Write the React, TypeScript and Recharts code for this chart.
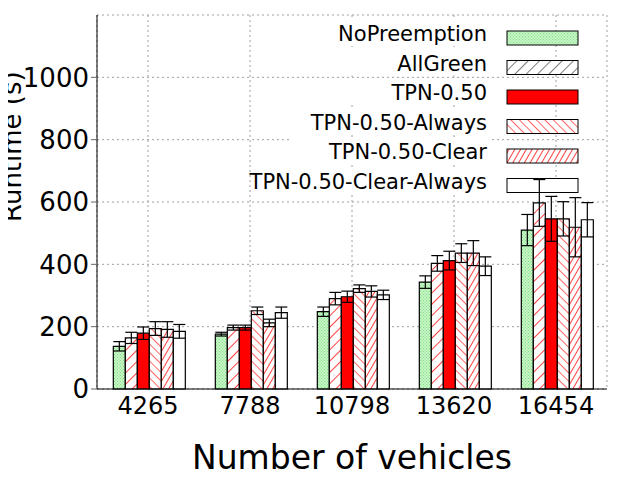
import React from "react";
import { BarChart, Bar, XAxis, YAxis, CartesianGrid, ErrorBar } from "recharts";

const categories = ["4265", "7788", "10798", "13620", "16454"];
const seriesNames = ["NoPreemption", "AllGreen", "TPN-0.50", "TPN-0.50-Always", "TPN-0.50-Clear", "TPN-0.50-Clear-Always"];
const values = [
  [137, 176, 248, 343, 510],
  [164, 197, 290, 403, 597],
  [179, 197, 296, 412, 546],
  [194, 251, 322, 436, 546],
  [191, 212, 313, 436, 519],
  [185, 245, 302, 394, 543],
];
const errors = [
  [15, 6, 15, 20, 50],
  [18, 8, 20, 25, 75],
  [20, 8, 18, 30, 72],
  [22, 12, 12, 30, 55],
  [25, 12, 18, 40, 95],
  [22, 18, 15, 30, 55],
];
const yTicks = [0, 200, 400, 600, 800, 1000];
const fills = ["url(#pGreen)", "url(#pFwd)", "#ff0000", "url(#pBack)", "url(#pFwdDense)", "#ffffff"];
const legendFills = ["url(#pGreen)", "url(#pFwdBlack)", "#ff0000", "url(#pBack)", "url(#pFwdDense)", "#ffffff"];

const data = categories.map((c, i) => {
  const row: any = { name: c };
  seriesNames.forEach((s, j) => {
    row["v" + j] = values[j][i];
    row["e" + j] = errors[j][i];
  });
  return row;
});

const font = "DejaVu Sans, sans-serif";

export default function App() {
  return (
    <div style={{ position: "relative", width: 640, height: 480, margin: -8, background: "#fff" }}>
      <BarChart width={640} height={480} data={data} margin={{ top: 15, right: 33, bottom: 61, left: 20 }} barCategoryGap="16%" barGap={0}>
        <defs>
          <pattern id="pGreen" patternUnits="userSpaceOnUse" width={3} height={3}>
            <rect width={3} height={3} fill="#c8f5c8" />
            <rect width={1} height={1} fill="#7ee07e" />
            <rect x={1.5} y={1.5} width={1} height={1} fill="#7ee07e" />
          </pattern>
          <pattern id="pFwd" patternUnits="userSpaceOnUse" width={8} height={8} patternTransform="rotate(45)">
            <rect width={8} height={8} fill="#fff" />
            <line x1={0} y1={0} x2={0} y2={8} stroke="#ff0000" strokeWidth={1.5} />
          </pattern>
          <pattern id="pFwdBlack" patternUnits="userSpaceOnUse" width={8} height={8} patternTransform="rotate(45)">
            <rect width={8} height={8} fill="#fff" />
            <line x1={0} y1={0} x2={0} y2={8} stroke="#000" strokeWidth={1} />
          </pattern>
          <pattern id="pBack" patternUnits="userSpaceOnUse" width={6} height={6} patternTransform="rotate(-45)">
            <rect width={6} height={6} fill="#fff" />
            <line x1={0} y1={0} x2={0} y2={6} stroke="#ff0000" strokeWidth={1.2} />
          </pattern>
          <pattern id="pFwdDense" patternUnits="userSpaceOnUse" width={5} height={5} patternTransform="rotate(30)">
            <rect width={5} height={5} fill="#fff" />
            <line x1={0} y1={0} x2={0} y2={5} stroke="#ff0000" strokeWidth={1.5} />
          </pattern>
        </defs>
        <CartesianGrid stroke="#a0a0a0" strokeDasharray="2 3" />
        <XAxis dataKey="name" tick={{ fontSize: 24, fill: "#000", fontFamily: font }} tickLine={false} axisLine={{ stroke: "#000" }}
          label={{ value: "Number of vehicles", position: "insideBottom", offset: -50, fontSize: 33, fill: "#000", fontFamily: font }} />
        <YAxis domain={[0, 1200]} ticks={yTicks} interval={0} tick={{ fontSize: 26, fill: "#000", fontFamily: font }} tickSize={6} axisLine={{ stroke: "#000" }} width={77}
          label={{ value: "Runtime (s)", angle: -90, position: "insideLeft", offset: -8, dy: 20, fontSize: 26, fill: "#000", fontFamily: font }} />
        {seriesNames.map((s, j) => (
          <Bar key={s} dataKey={"v" + j} name={s} fill={fills[j]} stroke="#000" strokeWidth={1.2} isAnimationActive={false}>
            <ErrorBar dataKey={"e" + j} width={6} stroke="#000" strokeWidth={1.2} />
          </Bar>
        ))}
        <g>
          {seriesNames.map((s, j) => (
            <g key={s}>
              <rect x={290} y={20 + j * 29.5} width={200} height={26} fill="#fff" />
              <text x={487} y={41 + j * 29.5} textAnchor="end" fontSize={21} fontFamily={font} fill="#000">{s}</text>
              <rect x={507} y={31 + j * 29.5} width={71} height={14} fill={legendFills[j]} stroke="#000" strokeWidth={1} />
            </g>
          ))}
        </g>
      </BarChart>
    </div>
  );
}
